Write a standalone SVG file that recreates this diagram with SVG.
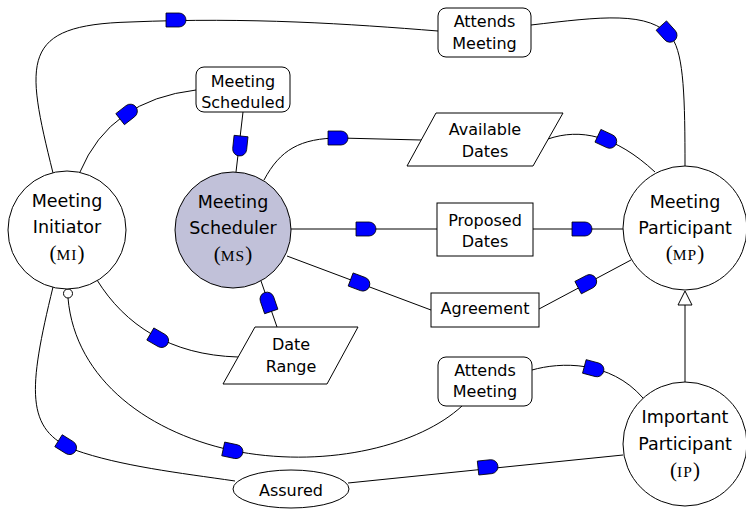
<svg xmlns="http://www.w3.org/2000/svg" width="746" height="509" viewBox="0 0 746 509">
  <style>
    .edge { fill: none; stroke: #000; stroke-width: 1; }
    .shape { fill: #fff; stroke: #000; stroke-width: 1; }
    .actor { fill: #fff; stroke: #000; stroke-width: 1; }
    .agent { fill: #c1c1d9; stroke: #000; stroke-width: 1; }
    .lbl { font-family: "DejaVu Sans", "Liberation Sans", sans-serif; font-size: 16px; fill: #000; text-anchor: middle; }
    .big { font-size: 17.5px; }
    .abbr { font-family: "Liberation Serif", "DejaVu Serif", serif; font-size: 21px; fill: #000; text-anchor: middle; }
    .sc { font-size: 15.5px; letter-spacing: 1px; }
    .dm { fill: #0000ff; stroke: #000; stroke-width: 0.8; }
  </style>
  <defs>
    <!-- dependency mark: flat back, rounded front, pointing along +x -->
    <path id="dep" class="dm" d="M -10,-7 H 3 A 7 7 0 0 1 3,7 H -10 Z"/>
  </defs>

  <g id="connectors">
    <!-- Initiator -> Attends Meeting -> Participant -->
    <path class="edge" d="M 53,173 C 25,60 20,25 130,22 C 250,17 350,24 438,31"/>
    <path class="edge" d="M 531,25 C 600,17 650,10 672,38 C 684,55 685,100 685,166"/>
    <!-- Initiator -> Meeting Scheduled -> Scheduler -->
    <path class="edge" d="M 80,172 Q 110,100 196,90"/>
    <path class="edge" d="M 243,112 L 236,172"/>
    <!-- Scheduler -> Available Dates -> Participant -->
    <path class="edge" d="M 264,180 C 280,150 300,138 340,138 L 421,140"/>
    <path class="edge" d="M 548,139 C 580,128 615,135 655,172"/>
    <!-- Scheduler -> Proposed Dates -> Participant -->
    <path class="edge" d="M 291,229 H 437"/>
    <path class="edge" d="M 533,229 H 623"/>
    <!-- Scheduler -> Agreement -> Participant -->
    <path class="edge" d="M 287,256 L 431,310"/>
    <path class="edge" d="M 539,309 L 631,260"/>
    <!-- Date Range -> Scheduler -->
    <path class="edge" d="M 277,327 L 261,281"/>
    <!-- Initiator -> Date Range -->
    <path class="edge" d="M 97,280 C 125,325 170,355 238,357"/>
    <!-- Initiator -> Attends Meeting -> Important Participant -->
    <path class="edge" d="M 68,298 C 75,380 150,435 240,452 C 330,468 420,445 462,406"/>
    <path class="edge" d="M 532,370 C 560,362 610,360 643,398"/>
    <!-- Initiator -> Assured -> Important Participant -->
    <path class="edge" d="M 53,287 C 28,390 25,430 75,450 C 120,466 180,473 235,481"/>
    <path class="edge" d="M 348,483 L 623,455"/>
    <!-- is-a: Important Participant -> Participant -->
    <path class="edge" d="M 685,382 V 305"/>
    <polygon class="shape" points="685,291 678,305 692,305"/>
    <circle class="shape" cx="68" cy="293.5" r="4.5"/>

    <!-- dependency marks -->
    <use href="#dep" transform="translate(176,20)"/>
    <use href="#dep" transform="translate(668,33) rotate(48)"/>
    <use href="#dep" transform="translate(128,113) rotate(-38)"/>
    <use href="#dep" transform="translate(240,146) rotate(96)"/>
    <use href="#dep" transform="translate(338,138)"/>
    <use href="#dep" transform="translate(607,140) rotate(25)"/>
    <use href="#dep" transform="translate(366,229)"/>
    <use href="#dep" transform="translate(582,229)"/>
    <use href="#dep" transform="translate(360,283) rotate(20.6)"/>
    <use href="#dep" transform="translate(587,283) rotate(-27.5)"/>
    <use href="#dep" transform="translate(268,302) rotate(-109)"/>
    <use href="#dep" transform="translate(159,339) rotate(30)"/>
    <use href="#dep" transform="translate(233,451) rotate(12)"/>
    <use href="#dep" transform="translate(594,369) rotate(15)"/>
    <use href="#dep" transform="translate(67,446) rotate(32)"/>
    <use href="#dep" transform="translate(488,467) rotate(-6)"/>
  </g>

  <!-- actors -->
  <g id="meeting-initiator">
    <circle class="actor" cx="67" cy="230" r="59"/>
    <text class="lbl big" x="67" y="207">Meeting</text>
    <text class="lbl big" x="67" y="233">Initiator</text>
    <text class="abbr" x="67" y="260">(<tspan class="sc">MI</tspan>)</text>
  </g>
  <g id="meeting-scheduler">
    <circle class="agent" cx="233" cy="230" r="58"/>
    <text class="lbl big" x="233" y="208">Meeting</text>
    <text class="lbl big" x="233" y="234">Scheduler</text>
    <text class="abbr" x="233" y="261">(<tspan class="sc">MS</tspan>)</text>
  </g>
  <g id="meeting-participant">
    <circle class="actor" cx="685" cy="228" r="62"/>
    <text class="lbl big" x="685" y="208">Meeting</text>
    <text class="lbl big" x="685" y="234">Participant</text>
    <text class="abbr" x="685" y="260">(<tspan class="sc">MP</tspan>)</text>
  </g>
  <g id="important-participant">
    <circle class="actor" cx="685" cy="444" r="62"/>
    <text class="lbl big" x="685" y="423">Important</text>
    <text class="lbl big" x="685" y="450">Participant</text>
    <text class="abbr" x="685" y="477">(<tspan class="sc">IP</tspan>)</text>
  </g>

  <!-- dependums -->
  <g id="attends-meeting-top">
    <rect class="shape" x="438" y="8" width="93" height="49" rx="8"/>
    <text class="lbl" x="484.5" y="27">Attends</text>
    <text class="lbl" x="484.5" y="49">Meeting</text>
  </g>
  <g id="meeting-scheduled">
    <rect class="shape" x="196" y="67" width="94" height="45" rx="8"/>
    <text class="lbl" x="243" y="87">Meeting</text>
    <text class="lbl" x="243" y="108">Scheduled</text>
  </g>
  <g id="available-dates">
    <polygon class="shape" points="436,113 563,113 533,166 407,166"/>
    <text class="lbl" x="485" y="135">Available</text>
    <text class="lbl" x="485" y="157">Dates</text>
  </g>
  <g id="proposed-dates">
    <rect class="shape" x="437" y="203" width="96" height="53"/>
    <text class="lbl" x="485" y="226">Proposed</text>
    <text class="lbl" x="485" y="247">Dates</text>
  </g>
  <g id="agreement">
    <rect class="shape" x="431" y="293" width="108" height="34"/>
    <text class="lbl" x="485" y="314">Agreement</text>
  </g>
  <g id="date-range">
    <polygon class="shape" points="255,327 358,327 327,384 223,384"/>
    <text class="lbl" x="291" y="350">Date</text>
    <text class="lbl" x="291" y="372">Range</text>
  </g>
  <g id="attends-meeting-bottom">
    <rect class="shape" x="438" y="357" width="94" height="49" rx="8"/>
    <text class="lbl" x="485" y="376">Attends</text>
    <text class="lbl" x="485" y="397">Meeting</text>
  </g>
  <g id="assured">
    <ellipse class="shape" cx="291" cy="489" rx="58" ry="19"/>
    <text class="lbl" x="291" y="496">Assured</text>
  </g>
</svg>
